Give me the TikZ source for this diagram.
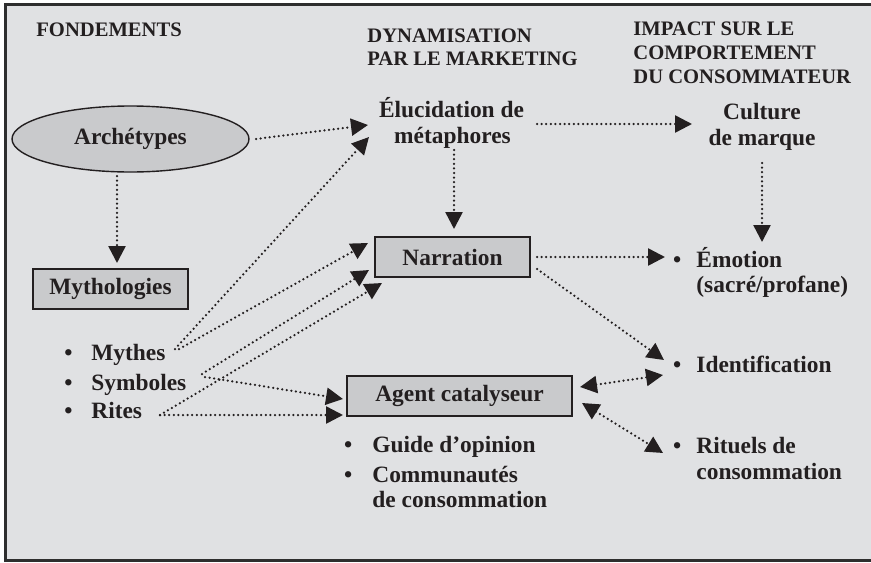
\documentclass[tikz,border=0pt]{standalone}
\usepackage{fontspec}
\setmainfont{Liberation Serif}
\usetikzlibrary{arrows.meta,shapes.geometric}
\definecolor{bg}{HTML}{E0E1E3}
\definecolor{boxfill}{HTML}{C9CACC}
\definecolor{ink}{HTML}{231F20}
\definecolor{frame}{HTML}{2E2E2E}
\newcommand{\lbul}{\llap{•\hspace{9.4pt}}}
\newcommand{\rbul}{\llap{•\hspace{7.5pt}}}
\newcommand{\bbul}{\llap{•\hspace{10pt}}}
\begin{document}
\begin{tikzpicture}[x=0.5pt,y=-0.5pt,
  every node/.style={text=ink, font=\bfseries\fontsize{11.7}{13.5}\selectfont, inner sep=0pt},
  head/.style={font=\bfseries\fontsize{10.3}{11.8}\selectfont, anchor=base west},
  txt/.style={anchor=base west},
  ctxt/.style={anchor=base},
  gbox/.style={draw=ink, fill=boxfill, line width=0.7pt, minimum height=20pt},
  link/.style={draw=ink, line width=1.25pt, dash pattern=on 0pt off 2.3pt, line cap=round},
  tip/.style={-{Triangle[length=8.5pt,width=8.5pt,line cap=butt]}},
  dtip/.style={{Triangle[length=8.5pt,width=8.5pt,line cap=butt]}-{Triangle[length=8.5pt,width=8.5pt,line cap=butt]}}
]
\useasboundingbox (0,0) rectangle (871,562);
\clip (0,0) rectangle (871,562);
\fill[white] (0,0) rectangle (871,562);
\draw[frame, fill=bg, line width=1.5pt] (5.5,4.5) rectangle (880,560.5);

% headers
\node[head] (hF) at (36,36) {FONDEMENTS};
\node[head] (hD1) at (367,42) {DYNAMISATION};
\node[head] (hD2) at (367,65) {PAR LE MARKETING};
\node[head] (hI1) at (633,35) {IMPACT SUR LE};
\node[head] (hI2) at (633,59) {COMPORTEMENT};
\node[head] (hI3) at (633,83) {DU CONSOMMATEUR};

% shapes
\node[ellipse, draw=ink, fill=boxfill, line width=0.7pt, minimum width=118.5pt, minimum height=33pt] (arch) at (130.5,139) {Archétypes};
\node[gbox, minimum width=77.5pt] (myth) at (110.5,289) {Mythologies};
\node[gbox, minimum width=77.5pt] (narr) at (452.5,257) {Narration};
\node[gbox, minimum width=112.5pt] (agent) at (459.5,396) {Agent catalyseur};

% texts
\node[ctxt] (elu1) at (451.5,117) {Élucidation de};
\node[ctxt] (elu2) at (452.5,143) {métaphores};
\node[ctxt] (cul1) at (762,119) {Culture};
\node[ctxt] (cul2) at (762,145) {de marque};

\node[txt] (mythes) at (91,360) {\lbul Mythes};
\node[txt] (symb) at (91,390) {\lbul Symboles};
\node[txt] (rites) at (91,418) {\lbul Rites};

\node[txt] (emo1) at (696,267) {\rbul Émotion};
\node[txt] (emo2) at (696,292) {(sacré/profane)};
\node[txt] (ident) at (696,372) {\rbul Identification};
\node[txt] (rit1) at (696,453) {\rbul Rituels de};
\node[txt] (rit2) at (696,479) {consommation};

\node[txt] (guide) at (372,452) {\bbul Guide d’opinion};
\node[txt] (comm1) at (372,482) {\bbul Communautés};
\node[txt] (comm2) at (372,507) {de consommation};

% connector end points
\coordinate (a1s) at (256,139);  \coordinate (a1e) at (368,125);
\coordinate (a2s) at (537,124);  \coordinate (a2e) at (692,124);
\coordinate (a3s) at (454,150);  \coordinate (a3e) at (454,229);
\coordinate (a4s) at (762,163);  \coordinate (a4e) at (762,242);
\coordinate (a5s) at (117,176);  \coordinate (a5e) at (117,263);
\coordinate (a6s) at (175,349);  \coordinate (a6e) at (369,137);
\coordinate (a7s) at (179,349);  \coordinate (a7e) at (368,243);
\coordinate (a8s) at (202,374);  \coordinate (a8e) at (369,270);
\coordinate (a9s) at (160,415);  \coordinate (a9e) at (382,283);
\coordinate (a10s) at (205,377); \coordinate (a10e) at (343,399);
\coordinate (a11s) at (160,415); \coordinate (a11e) at (343,415);
\coordinate (a12s) at (537,257); \coordinate (a12e) at (665,257);
\coordinate (a13s) at (537,269); \coordinate (a13e) at (664,360);
\coordinate (a14s) at (580,387); \coordinate (a14e) at (663,375);
\coordinate (a15s) at (582,403); \coordinate (a15e) at (663,453);

\draw[link,tip] (a1s) -- (a1e);
\draw[link,tip] (a2s) -- (a2e);
\draw[link,tip] (a3s) -- (a3e);
\draw[link,tip] (a4s) -- (a4e);
\draw[link,tip] (a5s) -- (a5e);
\draw[link,tip] (a6s) -- (a6e);
\draw[link,tip] (a7s) -- (a7e);
\draw[link,tip] (a8s) -- (a8e);
\draw[link,tip] (a9s) -- (a9e);
\draw[link,tip] (a10s) -- (a10e);
\draw[link,tip] (a11s) -- (a11e);
\draw[link,tip] (a12s) -- (a12e);
\draw[link,tip] (a13s) -- (a13e);
\draw[link,dtip] (a14s) -- (a14e);
\draw[link,dtip] (a15s) -- (a15e);
\end{tikzpicture}
\end{document}
